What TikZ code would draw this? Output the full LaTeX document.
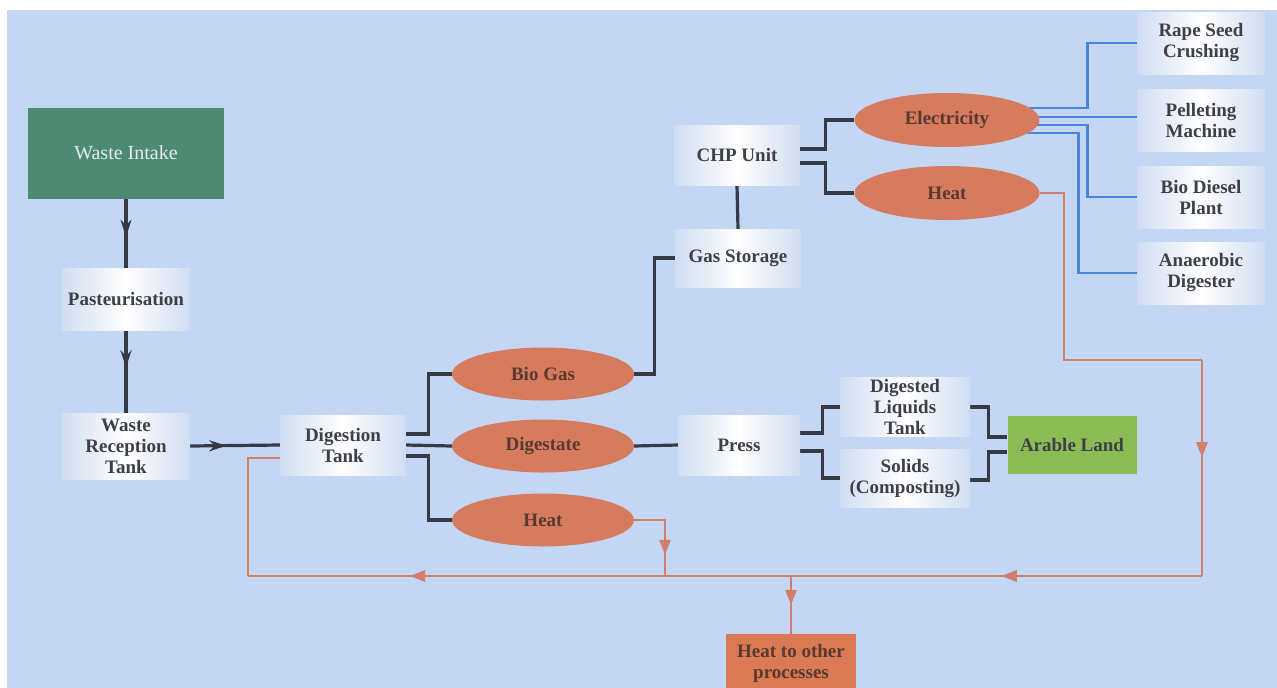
\documentclass[tikz,border=0pt]{standalone}
\usepackage{fontspec}
\setmainfont{Liberation Serif}
\usetikzlibrary{calc,shapes.geometric,decorations.markings,arrows.meta,backgrounds}
\definecolor{bg}{HTML}{C3D7F5}
\definecolor{boxE}{HTML}{D0DDF2}
\definecolor{txt}{HTML}{3E4047}
\definecolor{ell}{HTML}{D67B5E}
\definecolor{elltxt}{HTML}{5A3A30}
\definecolor{dk}{HTML}{353A44}
\definecolor{bl}{HTML}{4A86D8}
\definecolor{orl}{HTML}{D08068}
\definecolor{gdark}{HTML}{4E8A73}
\definecolor{glight}{HTML}{8CBC55}
\definecolor{orbox}{HTML}{D97A55}
\begin{document}
\begin{tikzpicture}[x=1pt,y=-1pt,
  wbox/.style={rectangle, left color=boxE, right color=boxE, middle color=white,
    minimum width=125pt, minimum height=60pt, inner sep=2pt, align=center,
    font=\bfseries\fontsize{19}{21}\selectfont, text=txt},
  ellnode/.style={ellipse, fill=ell, minimum width=182pt, minimum height=53pt, inner sep=0pt,
    font=\bfseries\fontsize{19}{21}\selectfont, text=elltxt},
  dkline/.style={draw=dk, line width=3.2pt},
  blline/.style={draw=bl, line width=2.6pt},
  orline/.style={draw=orl, line width=2.6pt},
  midarr/.style={postaction={decorate},decoration={markings,
    mark=at position #1 with {\arrow{Stealth[length=17pt,width=11pt,color=dk]}}}},
  midarr/.default=0.5,
  midarro/.style={postaction={decorate},decoration={markings,
    mark=at position #1 with {\arrow{Triangle[length=15pt,width=11pt,color=orl]}}}},
  midarro/.default=0.5]
\useasboundingbox (0,0) rectangle (1277,688);
\begin{pgfonlayer}{background}
\fill[white] (0,0) rectangle (1277,688);
\fill[bg] (7,10) rectangle (1277,688);
\end{pgfonlayer}

% nodes
\node[rectangle, fill=gdark, minimum width=196pt, minimum height=91pt,
  font=\fontsize{20}{22}\selectfont, text=white!85!gdark] (intake) at (126,153) {Waste Intake};
\node[wbox, minimum width=128pt, minimum height=62pt] (past) at (126,299) {Pasteurisation};
\node[wbox, minimum width=128pt, minimum height=66pt] (recep) at (126,446) {Waste\\Reception\\Tank};
\node[wbox] (dig) at (343,445) {Digestion\\Tank};
\node[ellnode] (biogas) at (543,374) {Bio Gas};
\node[ellnode] (digestate) at (543,446) {Digestate};
\node[ellnode] (heatA) at (543,520) {Heat};
\node[wbox, minimum width=122pt] (press) at (739,445) {Press};
\node[wbox, minimum width=130pt, minimum height=58pt] (liq) at (905,407) {Digested\\Liquids\\Tank};
\node[wbox, minimum width=130pt, minimum height=58pt] (sol) at (905,478) {Solids\\(Composting)};
\node[rectangle, fill=glight, minimum width=129pt, minimum height=58pt,
  font=\bfseries\fontsize{19}{21}\selectfont, text=txt] (arable) at (1072,445) {Arable Land};
\node[wbox, minimum height=58pt] (gas) at (738,258) {Gas Storage};
\node[wbox] (chp) at (737,155) {CHP Unit};
\node[ellnode, minimum width=185pt, minimum height=54pt] (elec) at (947,120) {Electricity};
\node[ellnode, minimum width=185pt, minimum height=54pt] (heatB) at (947,193) {Heat};
\node[wbox, minimum width=127pt, minimum height=62pt] (rape) at (1201,43) {Rape Seed\\Crushing};
\node[wbox, minimum width=127pt, minimum height=62pt] (pellet) at (1201,120) {Pelleting\\Machine};
\node[wbox, minimum width=127pt, minimum height=62pt] (diesel) at (1201,197) {Bio Diesel\\Plant};
\node[wbox, minimum width=127pt, minimum height=62pt] (anaer) at (1201,273) {Anaerobic\\Digester};
\node[rectangle, fill=orbox, minimum width=130pt, minimum height=58pt, align=center,
  font=\bfseries\fontsize{19}{21}\selectfont, text=elltxt] (other) at (791,663) {Heat to other\\processes};

\coordinate (hk) at (1064,360);
\coordinate (bR) at (1202,576);
\coordinate (bL) at (248,576);
\coordinate (jA) at (665,576);
\coordinate (jO) at (791,576);

\begin{pgfonlayer}{background}
% dark connectors
\draw[dkline, midarr=0.55] (intake.south) -- (past.north);
\draw[dkline, midarr=0.45] (past.south) -- (recep.north);
\draw[dkline, midarr=0.4] (recep.east) -- (dig.west);
\draw[dkline] ([yshift=11pt]dig.east) -- ++(23,0) |- (biogas.west);
\draw[dkline] (dig.east) -- (digestate.west);
\draw[dkline] ([yshift=-11pt]dig.east) -- ++(23,0) |- (heatA.west);
\draw[dkline] (digestate.east) -- (press.west);
\draw[dkline] (biogas.east) -- ++(20,0) |- (gas.west);
\draw[dkline] (chp.south) -- (gas.north);
\draw[dkline] ([yshift=6pt]chp.east) -- ++(26,0) |- (elec.west);
\draw[dkline] ([yshift=-8pt]chp.east) -- ++(26,0) |- (heatB.west);
\draw[dkline] ([yshift=12pt]press.east) -- ++(22,0) |- (liq.west);
\draw[dkline] ([yshift=-6pt]press.east) -- ++(22,0) |- (sol.west);
\draw[dkline] (liq.east) -- ++(18,0) |- ([yshift=8pt]arable.west);
\draw[dkline] ([yshift=-2pt]sol.east) -- ++(18,0) |- ([yshift=-7pt]arable.west);
% blue connectors
\draw[blline] ($(elec.center)+(80,-12)$) -| ([xshift=-50pt]rape.west) -- (rape.west);
\draw[blline] ($(elec.center)+(85,-3)$) -- ([yshift=3pt]pellet.west);
\draw[blline] ($(elec.center)+(85,5)$) -| ([xshift=-50pt]diesel.west) -- (diesel.west);
\draw[blline] ($(elec.center)+(80,13)$) -| ([xshift=-59pt]anaer.west) -- (anaer.west);
% orange heat loop
\draw[orline] (heatB.east) -| (hk) -- (hk -| bR);
\draw[orline, midarro=0.45] (hk -| bR) -- (bR);
\draw[orline, midarro=0.21, midarro=0.83] (bR) -- (bL);
\draw[orline] (bL) |- ([yshift=-13pt]dig.west);
\draw[orline] (heatA.east) -| ($(jA)+(0,-1)$);
\draw[orline, midarro=0.55] ([yshift=-9pt]heatA.east -| jA) -- (jA);
\draw[orline, midarro=0.5] (jO) -- (other.north);
\end{pgfonlayer}
\end{tikzpicture}
\end{document}
